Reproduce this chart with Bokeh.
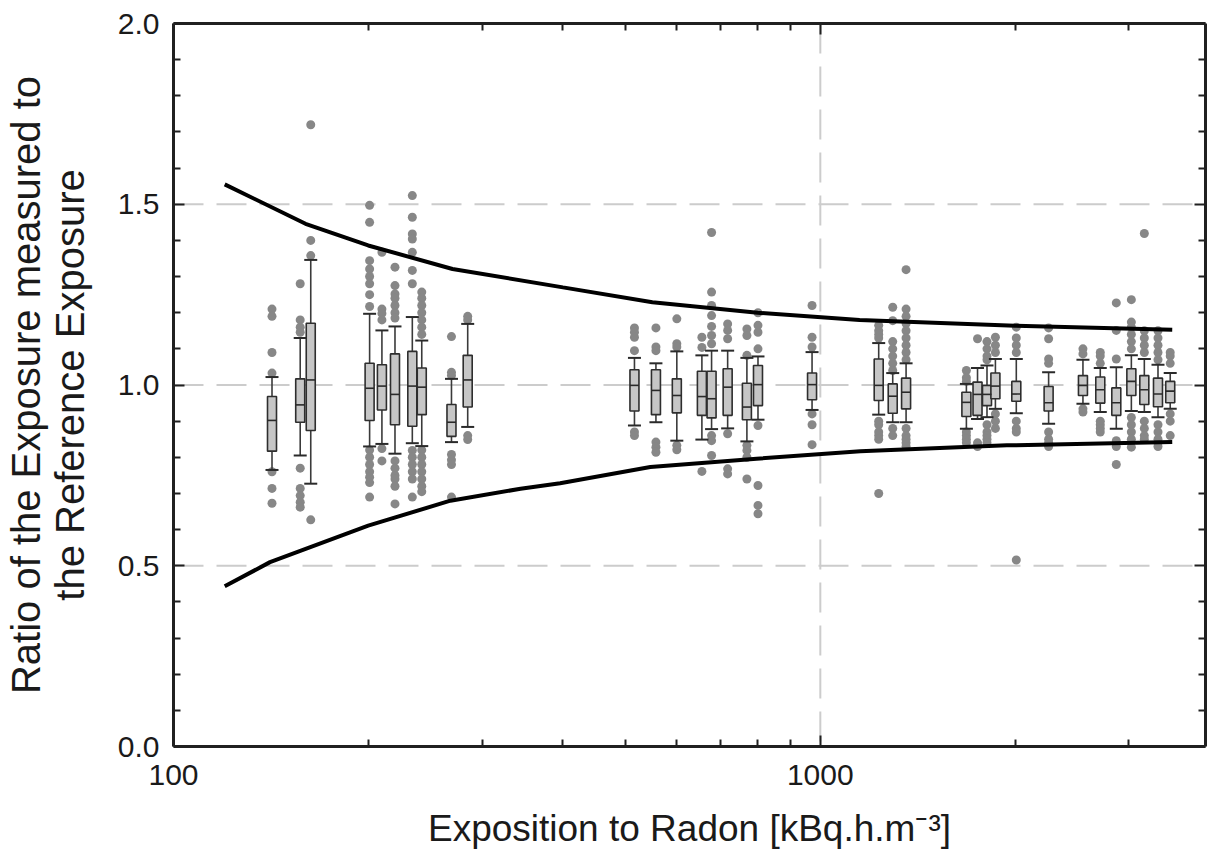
from bokeh.plotting import figure
from bokeh.models import (LinearAxis, LogAxis, FixedTicker, Span, PrintfTickFormatter,
                          Range1d, ColumnDataSource)
from bokeh.embed import file_html
from bokeh.resources import INLINE

# ---------------- data ----------------
box_x = [142, 157, 163, 201, 210, 220, 234, 242, 269, 285,
         516, 557, 600, 656, 679, 719, 770, 801, 971,
         1231, 1294, 1357, 1682, 1750, 1810, 1865, 2009, 2254,
         2547, 2709, 2868, 3026, 3169, 3327, 3475]
q1 = [0.817, 0.897, 0.874, 0.902, 0.931, 0.890, 0.886, 0.918, 0.858, 0.939,
      0.928, 0.918, 0.923, 0.916, 0.909, 0.916, 0.904, 0.943, 0.959,
      0.957, 0.922, 0.934, 0.913, 0.916, 0.943, 0.962, 0.955, 0.928,
      0.971, 0.950, 0.916, 0.971, 0.946, 0.940, 0.951]
median = [0.902, 0.945, 1.014, 0.991, 0.997, 0.974, 0.997, 0.994, 0.897, 1.014,
          0.999, 0.985, 0.971, 0.968, 0.962, 0.994, 0.939, 1.001, 1.001,
          0.999, 0.969, 0.980, 0.952, 0.974, 0.974, 0.997, 0.975, 0.951,
          0.999, 0.987, 0.951, 1.010, 0.987, 0.975, 0.983]
q3 = [0.968, 1.017, 1.171, 1.060, 1.056, 1.086, 1.093, 1.047, 0.946, 1.082,
      1.042, 1.042, 1.017, 1.038, 1.038, 1.045, 1.005, 1.054, 1.033,
      1.072, 1.003, 1.019, 0.980, 1.008, 0.999, 1.033, 1.010, 0.996,
      1.026, 1.022, 0.992, 1.045, 1.026, 1.019, 1.010]
whisker_low = [0.765, 0.805, 0.727, 0.830, 0.837, 0.810, 0.839, 0.831, 0.842, 0.884,
               0.888, 0.897, 0.846, 0.849, 0.878, 0.880, 0.844, 0.904, 0.931,
               0.918, 0.897, 0.897, 0.879, 0.906, 0.911, 0.934, 0.922, 0.893,
               0.948, 0.925, 0.879, 0.928, 0.925, 0.911, 0.934]
whisker_high = [1.022, 1.130, 1.346, 1.197, 1.151, 1.162, 1.188, 1.123, 1.017, 1.169,
                1.075, 1.060, 1.093, 1.082, 1.095, 1.095, 1.075, 1.079, 1.091,
                1.116, 1.033, 1.060, 1.003, 1.047, 1.054, 1.072, 1.072, 1.035,
                1.070, 1.047, 1.049, 1.082, 1.072, 1.056, 1.033]
outliers = [
    [1.21, 1.19, 1.09, 1.033, 0.76, 0.714, 0.673],
    [1.28, 1.18, 1.16, 1.146, 0.77, 0.714, 0.694, 0.676, 0.662],
    [1.72, 1.40, 1.358, 0.627],
    [1.497, 1.45, 1.344, 1.321, 1.30, 1.28, 1.25, 1.217, 0.82, 0.80, 0.78, 0.76, 0.745, 0.73, 0.69],
    [1.367, 1.21, 1.198, 1.18, 0.824, 0.79],
    [1.326, 1.275, 1.252, 1.24, 1.22, 1.20, 1.185, 0.79, 0.77, 0.75, 0.74, 0.72, 0.671],
    [1.524, 1.464, 1.418, 1.404, 1.367, 1.317, 1.28, 0.819, 0.80, 0.78, 0.76, 0.74, 0.69],
    [1.257, 1.24, 1.22, 1.20, 1.18, 1.16, 1.14, 0.82, 0.80, 0.78, 0.76, 0.74, 0.72, 0.705],
    [1.134, 1.035, 1.026, 0.808, 0.793, 0.78, 0.69],
    [1.19, 1.18, 0.86, 0.849],
    [1.158, 1.146, 1.132, 1.095, 0.87, 0.86],
    [1.158, 1.105, 1.095, 0.842, 0.828, 0.814],
    [1.183, 1.114, 1.105, 0.833, 0.821],
    [1.132, 1.104, 0.761],
    [1.422, 1.257, 1.22, 1.192, 1.162, 1.137, 1.114, 0.86, 0.846, 0.805],
    [1.169, 1.151, 1.128, 0.865, 0.768, 0.754],
    [1.155, 1.137, 1.082, 0.833, 0.819, 0.80, 0.74],
    [1.20, 1.165, 1.146, 1.10, 0.888, 0.722, 0.667, 0.644],
    [1.22, 1.132, 1.105, 0.92, 0.89, 0.835],
    [1.165, 1.15, 1.14, 1.13, 0.90, 0.89, 0.87, 0.86, 0.85, 0.70],
    [1.215, 1.178, 1.12, 1.10, 1.08, 1.06, 1.04, 0.88, 0.86],
    [1.319, 1.21, 1.19, 1.17, 1.15, 1.13, 1.11, 1.09, 1.07, 0.88, 0.86, 0.85, 0.84, 0.83],
    [1.04, 1.02, 1.01, 0.87, 0.86, 0.85, 0.84],
    [1.128, 0.84, 0.83],
    [1.12, 1.10, 1.08, 1.07, 0.89, 0.87, 0.86, 0.85, 0.84],
    [1.132, 1.11, 1.09, 0.92, 0.90, 0.88],
    [1.16, 1.13, 1.11, 1.09, 0.90, 0.88, 0.87, 0.516],
    [1.158, 1.128, 1.072, 1.06, 0.87, 0.85, 0.84, 0.83],
    [1.10, 1.086, 0.934, 0.925],
    [1.09, 1.08, 1.06, 0.90, 0.89, 0.88, 0.87],
    [1.227, 1.151, 1.072, 0.846, 0.83, 0.78],
    [1.236, 1.174, 1.16, 1.14, 1.12, 1.10, 0.91, 0.89, 0.87, 0.85, 0.828],
    [1.419, 1.15, 1.13, 1.11, 1.09, 0.90, 0.88, 0.86, 0.85],
    [1.15, 1.13, 1.11, 1.09, 1.07, 0.89, 0.87, 0.85, 0.84, 0.83],
    [1.09, 1.08, 1.06, 0.92, 0.90, 0.86],
]

upper_x = [120, 160, 200, 270, 400, 550, 800, 1150, 2000, 3500]
upper_y = [1.555, 1.446, 1.386, 1.321, 1.27, 1.229, 1.20, 1.18, 1.164, 1.153]
lower_x = [120, 141, 200, 268, 344, 396, 546, 797, 1153, 1943, 3500]
lower_y = [0.443, 0.51, 0.611, 0.68, 0.713, 0.728, 0.773, 0.796, 0.817, 0.833, 0.842]

x_major = [100, 1000]
x_minor = [200, 300, 400, 500, 600, 700, 800, 900, 2000, 3000]
y_major = [0.0, 0.5, 1.0, 1.5, 2.0]
y_minor = [0.1, 0.2, 0.3, 0.4, 0.6, 0.7, 0.8, 0.9, 1.1, 1.2, 1.3, 1.4, 1.6, 1.7, 1.8, 1.9]
grid_y = [0.5, 1.0, 1.5]
grid_x = [1000]

x_title = "Exposition to Radon [kBq.h.m\u207b\u00b3]"
y_title = "Ratio of the Exposure measured to\nthe Reference Exposure"

# ---------------- figure ----------------
FONT = "Liberation Sans"
TXT = "#1a1a1a"

p = figure(width=1208, height=857, x_axis_type="log",
           x_range=Range1d(100, 3940), y_range=Range1d(0, 2.0),
           output_backend="svg", toolbar_location=None,
           min_border_left=173, min_border_top=23, min_border_right=3,
           min_border_bottom=111)
p.xgrid.visible = False
p.ygrid.visible = False
p.outline_line_color = None
p.background_fill_color = "white"
p.border_fill_color = "white"

for gy in grid_y:
    p.add_layout(Span(location=gy, dimension="width", line_color="#cccccc",
                      line_width=2, line_dash="30 13", level="underlay"))
for gx in grid_x:
    p.add_layout(Span(location=gx, dimension="height", line_color="#cccccc",
                      line_width=2, line_dash="30 13", level="underlay"))

xt = FixedTicker(ticks=x_major, minor_ticks=x_minor)
yt = FixedTicker(ticks=y_major, minor_ticks=y_minor)


def style_axis(ax, labels=True):
    ax.axis_line_width = 3
    ax.axis_line_color = "#202020"
    ax.major_tick_in = 11
    ax.major_tick_out = 0
    ax.minor_tick_in = 7
    ax.minor_tick_out = 0
    ax.major_tick_line_width = 2
    ax.minor_tick_line_width = 2
    ax.major_tick_line_color = "#202020"
    ax.minor_tick_line_color = "#202020"
    ax.major_label_text_font = FONT
    ax.major_label_text_color = TXT
    ax.axis_label_text_font = FONT
    ax.axis_label_text_color = TXT
    ax.axis_label_text_font_style = "normal"
    if labels:
        ax.major_label_text_font_size = "30px"
    else:
        ax.major_label_text_font_size = "1px"
        ax.major_label_text_alpha = 0
        ax.major_label_standoff = 0


xa = p.xaxis[0]
xa.ticker = xt
xa.formatter = PrintfTickFormatter(format="%d")
xa.axis_label = x_title
style_axis(xa)
xa.axis_label_text_font_size = "37px"
xa.major_label_standoff = 18
xa.axis_label_standoff = 20

ya = p.yaxis[0]
ya.ticker = yt
ya.formatter = PrintfTickFormatter(format="%.1f")
ya.axis_label = y_title
style_axis(ya)
ya.axis_label_text_font_size = "40px"
ya.axis_label_text_line_height = 1.0
ya.major_label_standoff = 14
ya.axis_label_standoff = 23

top = LogAxis(ticker=xt)
style_axis(top, labels=False)
p.add_layout(top, "above")
right = LinearAxis(ticker=yt)
style_axis(right, labels=False)
p.add_layout(right, "right")

# ---------------- glyphs ----------------
ox, oy = [], []
for xv, vals in zip(box_x, outliers):
    for v in vals:
        ox.append(xv)
        oy.append(v)
p.scatter(ox, oy, size=9, fill_color="#878787", line_color=None)

src = ColumnDataSource(dict(
    x=box_x, q1=q1, med=median, q3=q3, lo=whisker_low, hi=whisker_high,
    mid=[(a + b) / 2 for a, b in zip(q1, q3)],
    h=[b - a for a, b in zip(q1, q3)],
))
p.segment(x0="x", y0="q3", x1="x", y1="hi", source=src, line_color="#3a3a3a", line_width=1.6)
p.segment(x0="x", y0="lo", x1="x", y1="q1", source=src, line_color="#3a3a3a", line_width=1.6)
p.scatter(x="x", y="hi", source=src, marker="dash", size=13, line_color="#2a2a2a", line_width=2)
p.scatter(x="x", y="lo", source=src, marker="dash", size=13, line_color="#2a2a2a", line_width=2)
p.rect(x="x", y="mid", width=9, height="h", width_units="screen", source=src,
       fill_color="#c6c6c6", line_color="#2e2e2e", line_width=1.6)
p.scatter(x="x", y="med", source=src, marker="dash", size=9, line_color="#2a2a2a", line_width=1.6)

p.line(upper_x, upper_y, line_color="black", line_width=4)
p.line(lower_x, lower_y, line_color="black", line_width=4)

open("out.html", "w").write(file_html(p, INLINE))
